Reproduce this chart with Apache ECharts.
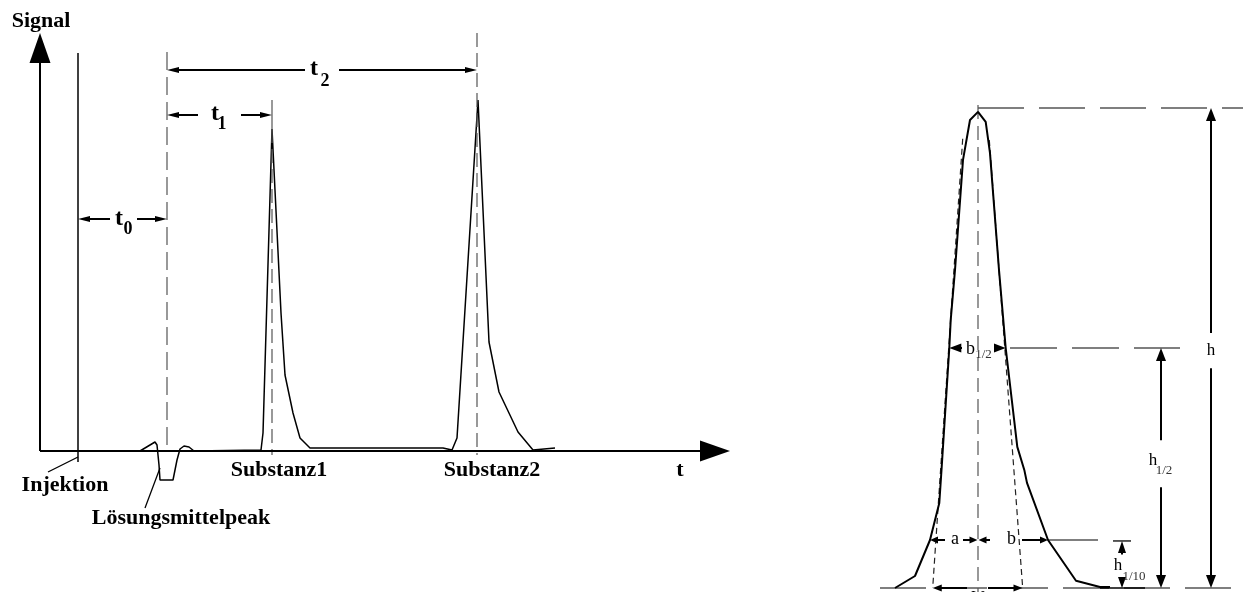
<!DOCTYPE html>
<html><head><meta charset="utf-8">
<script src="https://cdn.jsdelivr.net/npm/echarts@6/dist/echarts.min.js"></script>
<style>html,body{margin:0;padding:0;background:#fff}#c{width:1243px;height:592px}</style>
</head><body><div id="c"></div>
<script>
// ================= LEFT PANEL: chromatogram (x = time units, y = signal units) =================
const chromatogram = [[0,0],[10,0],[11,1.5],[11.5,2.25],[11.7,1.5],[11.9,-3.5],[12,-7.25],[13.3,-7.25],[13.7,-2.25],[14,0.5],[14.4,1.25],[14.9,1],[15.4,0],[22.1,0.25],[22.3,4.5],[23.2,80.5],[24.1,34.5],[24.5,19],[25.3,9.5],[26,3.25],[27,0.75],[40.3,0.75],[41.2,0.25],[41.7,3.25],[43.8,87.75],[44.9,27.25],[45.9,14.75],[47.8,4.75],[49.3,0.25],[51.5,0.75]];
const injectionLine   = [[3.8,99.5],[3.8,-2.75]];
const injectionPointer= [[3.8,-1.5],[0.8,-5.25]];
const solventPointer  = [[12,-4.25],[10.5,-14.25]];
const deadTimeLine    = [[12.7,99.75],[12.7,0.25]];
const peak1Tick       = [[23.2,87.75],[23.2,80.5]];
const peak1Center     = [[23.2,80.5],[23.2,-1]];
const peak2Center     = [[43.7,104.5],[43.7,-1]];
// axes arrows [x1,y1,x2,y2]
const axisArrows = [[0,0,0,104.5],[0,0,69,0]];
// retention-time dimension arrows
const timeArrows = [
  [7,58,3.8,58],[9.7,58,12.7,58],
  [15.8,84,12.7,84],[20.1,84,23.2,84],
  [26.5,95.25,12.7,95.25],[29.9,95.25,43.7,95.25]
];
// labels [text, x, y]
const leftLabels = [['Signal',0.1,107.5],['Injektion',2.5,-8.5],['Lösungsmittelpeak',14.1,-16.75],['Substanz1',23.9,-4.75],['Substanz2',45.2,-4.75],['t',64,-4.75]];
const timeSymbols = [['t',7.9,58],['t',17.5,84.25],['t',27.4,95.5]];
const timeSubs = [['0',8.8,55.5],['1',18.2,81.75],['2',28.5,92.5]];

// ================= RIGHT PANEL: peak detail (x = time units from apex, y = % of height) =================
const detailPeak = [[-16.6,0],[-12.6,2.5],[-9.6,10],[-7.74,17.7],[-7.26,25.2],[-5.74,50],[-5.46,55.8],[-4.6,66.25],[-3,89.2],[-1.6,97.5],[0,99.2],[1.54,97.1],[2.4,90.6],[4.2,66.25],[5.06,55.8],[5.54,50],[7.86,29.4],[9.26,24.6],[9.8,21.9],[14,10],[19.6,1.5],[24.4,0.2],[26.4,0.2]];
const tangentLeft  = [[-3.06,93.6],[-9.06,0]];
const tangentRight = [[2.26,93.3],[8.94,0]];
const centerLine   = [[0,100.6],[0,-0.83]];
const heightLine   = [[0,100],[53,100]];
const halfLine     = [[6.4,50],[40.4,50]];
const baseLine     = [[-19.6,0],[53,0]];
const tenthLine    = [[14,10],[24,10]];
const tenthTopBar  = [[27,9.8],[30.6,9.8]];
const tenthBaseBar = [[24.4,0],[33.4,0]];
const heightArrows = [[46.6,53.1,46.6,100],[46.6,45.8,46.6,0],[36.6,30.8,36.6,50],[36.6,21,36.6,0]];
const tenthArrows  = [[28.8,7,28.8,9.8],[28.8,2.3,28.8,0]];
const halfWidthHeads = [[-3.2,50,-5.74,50],[3.2,50,5.54,50]];
const abArrows = [[-6.6,10,-9.6,10],[-3,10,-0.1,10],[2.4,10,0.1,10],[8.8,10,14,10]];
const wArrows  = [[-2.2,0,-9.05,0],[2,0,8.9,0]];
const rightLetters = [['b',-1.5,49.8],['a',-4.6,10.2],['b',6.7,10.2],['w',0,-1.5]];
const rightH = [['h',46.6,49.4],['h',35,26.5],['h',28,4.6]];
const rightSubs = [['1/2',1.1,48.6],['1/2',37.2,24.4],['1/10',31.2,2.4]];

// ================= builders =================
function poly(points, g, style, z) {
  return {type:'line', xAxisIndex:g, yAxisIndex:g, data:points, symbol:'none', showSymbol:false,
    lineStyle:style, silent:true, clip:false, z:z||2};
}
function arrows(list, g, head) {
  return {type:'custom', xAxisIndex:g, yAxisIndex:g, data:list, encode:{x:[0,2], y:[1,3]}, silent:true, z:3,
    renderItem:function(params, api){
      const p1 = api.coord([api.value(0), api.value(1)]);
      const p2 = api.coord([api.value(2), api.value(3)]);
      const dx = p2[0]-p1[0], dy = p2[1]-p1[1];
      const len = Math.hypot(dx,dy) || 1;
      const ux = dx/len, uy = dy/len;
      const hl = Math.min(head.len, len), hw = head.width/2;
      const bx = p2[0]-ux*hl, by = p2[1]-uy*hl;
      const ch = [];
      if (len - hl > 0.5) ch.push({type:'line', shape:{x1:p1[0],y1:p1[1],x2:bx+ux*1,y2:by+uy*1}, style:{stroke:head.color, lineWidth:head.lw}});
      ch.push({type:'polygon', shape:{points:[[p2[0],p2[1]],[bx-uy*hw, by+ux*hw],[bx+uy*hw, by-ux*hw]]}, style:{fill:head.color}});
      return {type:'group', children:ch};
    }};
}
function texts(list, g, font) {
  return {type:'custom', xAxisIndex:g, yAxisIndex:g, data:list.map(d=>[d[1],d[2]]), encode:{x:0,y:1}, silent:true, z:5,
    renderItem:function(params, api){
      const p = api.coord([api.value(0), api.value(1)]);
      return {type:'text', x:p[0], y:p[1], style:{text:list[params.dataIndex][0], fontFamily:font.family,
        fontSize:font.size, fontWeight:font.weight, fill:font.color, align:'center', verticalAlign:'middle'}};
    }};
}

const SERIF = '"Liberation Serif","DejaVu Serif",serif';
const black = '#000';
const grayDash = '#555';

const series = [
  // left
  poly(chromatogram, 0, {color:black, width:1.5}),
  poly(injectionLine, 0, {color:black, width:1.5}),
  poly(injectionPointer, 0, {color:black, width:1.3}),
  poly(solventPointer, 0, {color:black, width:1.3}),
  poly(deadTimeLine, 0, {color:grayDash, width:1.2, type:[18,7]}),
  poly(peak1Tick, 0, {color:grayDash, width:1.2}),
  poly(peak1Center, 0, {color:grayDash, width:1.2, type:[14,6]}),
  poly(peak2Center, 0, {color:grayDash, width:1.2, type:[14,6]}),
  arrows(axisArrows, 0, {len:30, width:21, lw:2, color:black}),
  arrows(timeArrows, 0, {len:12, width:6, lw:2, color:black}),
  texts(leftLabels, 0, {family:SERIF, size:22, weight:'bold', color:black}),
  texts(timeSymbols, 0, {family:SERIF, size:24, weight:'bold', color:black}),
  texts(timeSubs, 0, {family:SERIF, size:18, weight:'bold', color:black}),
  // right
  poly(heightLine, 1, {color:grayDash, width:1.3, type:[46,15]}),
  poly(halfLine, 1, {color:grayDash, width:1.3, type:[47,15]}),
  poly(baseLine, 1, {color:grayDash, width:1.3, type:[46,15]}),
  poly(tenthLine, 1, {color:grayDash, width:1.3}),
  poly(tenthTopBar, 1, {color:black, width:1.3}),
  poly(tenthBaseBar, 1, {color:black, width:1.3}),
  poly(centerLine, 1, {color:grayDash, width:1.2, type:[14,7]}),
  poly(tangentLeft, 1, {color:'#222', width:1.2, type:[6,4]}),
  poly(tangentRight, 1, {color:'#222', width:1.2, type:[6,4]}),
  poly(detailPeak, 1, {color:black, width:2}, 4),
  arrows(heightArrows, 1, {len:13, width:10, lw:2, color:black}),
  arrows(tenthArrows, 1, {len:12, width:8, lw:2, color:black}),
  arrows(halfWidthHeads, 1, {len:12, width:9, lw:2, color:black}),
  arrows(abArrows, 1, {len:8, width:7, lw:2, color:black}),
  arrows(wArrows, 1, {len:9, width:7, lw:2, color:black}),
  texts(rightLetters, 1, {family:SERIF, size:18, weight:'normal', color:black}),
  texts(rightH, 1, {family:SERIF, size:17, weight:'normal', color:black}),
  texts(rightSubs, 1, {family:SERIF, size:13, weight:'normal', color:'#333'})
];

const chart = echarts.init(document.getElementById('c'), null, {renderer:'canvas', devicePixelRatio:1});
chart.setOption({
  animation:false,
  backgroundColor:'#fff',
  grid:[{left:0, top:11, width:840, height:580},{left:858, top:12, width:385, height:580}],
  xAxis:[{gridIndex:0, type:'value', min:-4, max:80, show:false},{gridIndex:1, type:'value', min:-24, max:53, show:false}],
  yAxis:[{gridIndex:0, type:'value', min:-35, max:110, show:false},{gridIndex:1, type:'value', min:-0.8333, max:120, show:false}],
  series:series
});
</script>
</body></html>
